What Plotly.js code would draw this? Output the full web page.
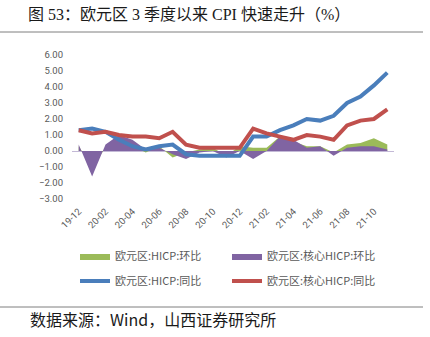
<!DOCTYPE html>
<html><head><meta charset="utf-8">
<script src="https://cdn.plot.ly/plotly-3.0.1.min.js"></script>
<style>html,body{margin:0;padding:0;background:#fff}#c{width:430px;height:337px}</style>
</head><body><div id="c"></div>
<script>
const months = ['19-12','20-01','20-02','20-03','20-04','20-05','20-06','20-07','20-08','20-09','20-10','20-11','20-12','21-01','21-02','21-03','21-04','21-05','21-06','21-07','21-08','21-09','21-10','21-11'];
const tickLabels = ['19-12','20-02','20-04','20-06','20-08','20-10','20-12','21-02','21-04','21-06','21-08','21-10'];
const hicpMoM = [0.3,-1.0,0.2,0.5,0.3,-0.1,0.3,-0.4,-0.1,0.1,0.2,-0.3,0.3,0.2,0.2,0.9,0.6,0.3,0.3,-0.1,0.4,0.5,0.8,0.4];
const coreMoM = [0.4,-1.6,0.4,1.0,0.7,0.1,0.2,-0.2,-0.5,-0.1,0.0,-0.4,0.0,-0.5,0.0,0.9,0.7,0.2,0.3,-0.3,0.2,0.3,0.3,0.1];
const hicpYoY = [1.3,1.4,1.2,0.7,0.3,0.1,0.3,0.4,-0.2,-0.3,-0.3,-0.3,-0.3,0.9,0.9,1.3,1.6,2.0,1.9,2.2,3.0,3.4,4.1,4.9];
const coreYoY = [1.3,1.1,1.2,1.0,0.9,0.9,0.8,1.2,0.4,0.2,0.2,0.2,0.2,1.4,1.1,0.9,0.7,1.0,0.9,0.7,1.6,1.9,2.0,2.6];
const names = ['欧元区:HICP:环比','欧元区:核心HICP:环比','欧元区:HICP:同比','欧元区:核心HICP:同比'];

const L = 72, R = 394, T = 55, B = 199;
const px = v => (v - L) / (R - L);
const py = v => (B - v) / (B - T);
const font = 'Roboto, "Noto Sans CJK SC", sans-serif';
const cjk = '"Noto Sans CJK SC", sans-serif';

const traces = [
  {x: months, y: hicpMoM, name: names[0], type: 'scatter', mode: 'lines', fill: 'tozeroy',
   line: {width: 0, color: '#9BBB59'}, fillcolor: '#9BBB59', legend: 'legend'},
  {x: months, y: coreMoM, name: names[1], type: 'scatter', mode: 'lines', fill: 'tozeroy',
   line: {width: 0, color: '#8064A2'}, fillcolor: '#8064A2', legend: 'legend'},
  {x: months, y: hicpYoY, name: names[2], type: 'scatter', mode: 'lines',
   line: {width: 4, color: '#4A7EBB'}, legend: 'legend2'},
  {x: months, y: coreYoY, name: names[3], type: 'scatter', mode: 'lines',
   line: {width: 4, color: '#C0504D'}, legend: 'legend2'}
];

const legendBase = {orientation: 'h', entrywidth: 107, entrywidthmode: 'pixels',
  font: {family: cjk, size: 11, color: '#595959'}, bgcolor: 'rgba(0,0,0,0)',
  xanchor: 'left', yanchor: 'middle', itemwidth: 30, traceorder: 'normal'};

const layout = {
  width: 430, height: 337,
  margin: {l: L, r: 430 - R, t: T, b: 337 - B},
  paper_bgcolor: '#fff', plot_bgcolor: '#fff',
  showlegend: true,
  title: {text: '图 53：欧元区 3 季度以来 CPI 快速走升（%）', font: {family: '"Liberation Serif", "Noto Sans CJK SC", serif', size: 16, color: '#1a1a1a'},
    x: 28/430, xanchor: 'left', xref: 'container', y: 1 - 14/337, yanchor: 'middle', yref: 'container'},
  xaxis: {type: 'category', range: [-0.5, 23.5], tickvals: tickLabels, ticktext: tickLabels,
    tickangle: -45, showgrid: false, zeroline: false, showline: false, ticks: '',
    ticklabelstandoff: 4,
    tickfont: {family: font, size: 9.5, color: '#595959'}, fixedrange: true},
  yaxis: {range: [-3, 6], dtick: 1, tickformat: '.2f', showgrid: false, showline: false,
    zeroline: true, zerolinecolor: '#C3B9D6', zerolinewidth: 1, ticks: '',
    ticklabelstandoff: 8,
    tickfont: {family: font, size: 9.5, color: '#595959'}, fixedrange: true},
  legend: Object.assign({}, legendBase, {x: px(75), y: py(256)}),
  legend2: Object.assign({}, legendBase, {x: px(75), y: py(281)}),
  shapes: [
    {type: 'line', xref: 'paper', yref: 'paper', x0: px(0), x1: px(423), y0: py(32), y1: py(32), line: {color: '#7f7f7f', width: 1}},
    {type: 'line', xref: 'paper', yref: 'paper', x0: px(0), x1: px(423), y0: py(307), y1: py(307), line: {color: '#7f7f7f', width: 1}}
  ],
  annotations: [
    {text: '数据来源：Wind，山西证券研究所', xref: 'paper', yref: 'paper', x: px(28), y: py(319),
     xanchor: 'left', yanchor: 'middle', showarrow: false, font: {family: cjk, size: 16, color: '#1a1a1a'}}
  ]
};
Plotly.newPlot('c', traces, layout, {displayModeBar: false, staticPlot: true});
</script></body></html>
